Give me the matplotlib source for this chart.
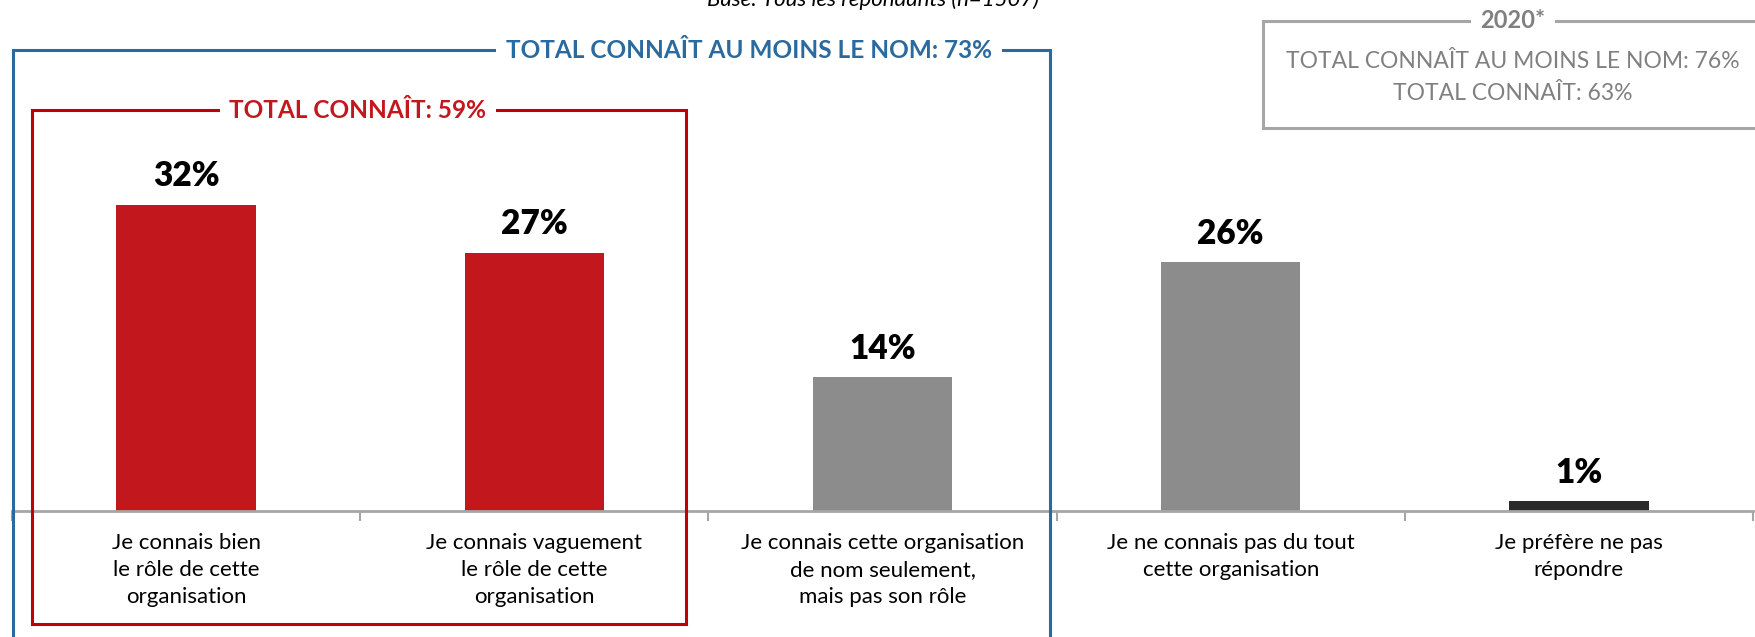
import matplotlib
matplotlib.use("Agg")
import matplotlib.pyplot as plt
from matplotlib.lines import Line2D

# ---- data ----
categories = [
    "Je connais bien\nle rôle de cette\norganisation",
    "Je connais vaguement\nle rôle de cette\norganisation",
    "Je connais cette organisation\nde nom seulement,\nmais pas son rôle",
    "Je ne connais pas du tout\ncette organisation",
    "Je préfère ne pas\nrépondre",
]
values = [32, 27, 14, 26, 1]
value_labels = ["32%", "27%", "14%", "26%", "1%"]
bar_colors = ["#C3171E", "#C3171E", "#8C8C8C", "#8C8C8C", "#2B2B2B"]
subtitle = "Base: Tous les répondants (n=1507)"
blue_title = "TOTAL CONNAÎT AU MOINS LE NOM: 73%"
red_title = "TOTAL CONNAÎT: 59%"
box2020_title = "2020*"
box2020_lines = ["TOTAL CONNAÎT AU MOINS LE NOM: 76%", "TOTAL CONNAÎT: 63%"]

W, H = 1756, 637
fig = plt.figure(figsize=(W / 100, H / 100), dpi=100)

REG = ["Lato", "DejaVu Sans"]


def fx(x):
    return x / W


def fy(y):
    return 1 - y / H


# axes: baseline at y=511 px, left 12 px, right 1753 px, top at 0 px
base_y = 511
left, right = 12, 1753
ax = fig.add_axes([fx(left), fy(base_y), (right - left) / W, base_y / H])
ppu = 9.57  # pixels per percentage point
ax.set_ylim(0, base_y / ppu)
ax.set_xlim(-0.5, len(values) - 0.5)

xs = list(range(len(values)))
ax.bar(xs, values, width=0.4, color=bar_colors, zorder=2)
for x, v, lab in zip(xs, values, value_labels):
    ax.annotate(lab, (x, v), xytext=(0, 9), textcoords="offset points",
                ha="center", va="bottom", fontsize=24, fontweight="heavy",
                family=REG, color="black")

for s in ["top", "right", "left"]:
    ax.spines[s].set_visible(False)
ax.spines["bottom"].set_color("#A6A6A6")
ax.spines["bottom"].set_linewidth(2)
ax.set_yticks([])
ax.set_xticks(xs)
ax.set_xticklabels(categories, fontsize=16, family=REG, linespacing=1.42)
ax.tick_params(axis="x", which="major", length=0, pad=16)
ax.set_xticks([x - 0.5 for x in xs] + [xs[-1] + 0.5], minor=True)
ax.tick_params(axis="x", which="minor", length=7, width=1.5, color="#A6A6A6",
               direction="out")
ax.patch.set_alpha(0)


def box(x0, y0, x1, y1, color, lw=2.2, title=None, tx=None, tcolor=None,
        tsize=14, tweight="bold", pad=7):
    fig.add_artist(Line2D([fx(x0), fx(x0), fx(x1), fx(x1), fx(x0)],
                          [fy(y1), fy(y0), fy(y0), fy(y1), fy(y1)],
                          color=color, lw=lw, transform=fig.transFigure,
                          solid_joinstyle="miter"))
    if title is not None:
        fig.text(fx(tx), fy(y0), title, ha="center", va="center",
                 fontsize=tsize, fontweight=tweight, family=REG,
                 color=tcolor,
                 bbox=dict(facecolor="white", edgecolor="none", pad=pad))


# blue box
box(13, 50, 1050, 700, "#2B6A9E", title=blue_title, tx=749,
    tcolor="#2B6A9E", tsize=17.6)
# red box
box(32, 110, 686, 624, "#C00000", title=red_title, tx=358,
    tcolor="#C3171E", tsize=17.6)
# 2020 box
box(1263, 21, 1800, 128, "#A6A6A6", title=box2020_title, tx=1513,
    tcolor="#808080", tsize=17)
fig.text(fx(1513), fy(62), box2020_lines[0], ha="center", va="center",
         fontsize=16.5, family=REG, color="#808080")
fig.text(fx(1513), fy(94), box2020_lines[1], ha="center", va="center",
         fontsize=16.5, family=REG, color="#808080")

# cut-off subtitle at top
fig.text(fx(873), fy(0), subtitle, ha="center", va="center", fontsize=16,
         style="italic", family=REG, color="black")

fig.savefig("out.png", dpi=100, facecolor="white")
